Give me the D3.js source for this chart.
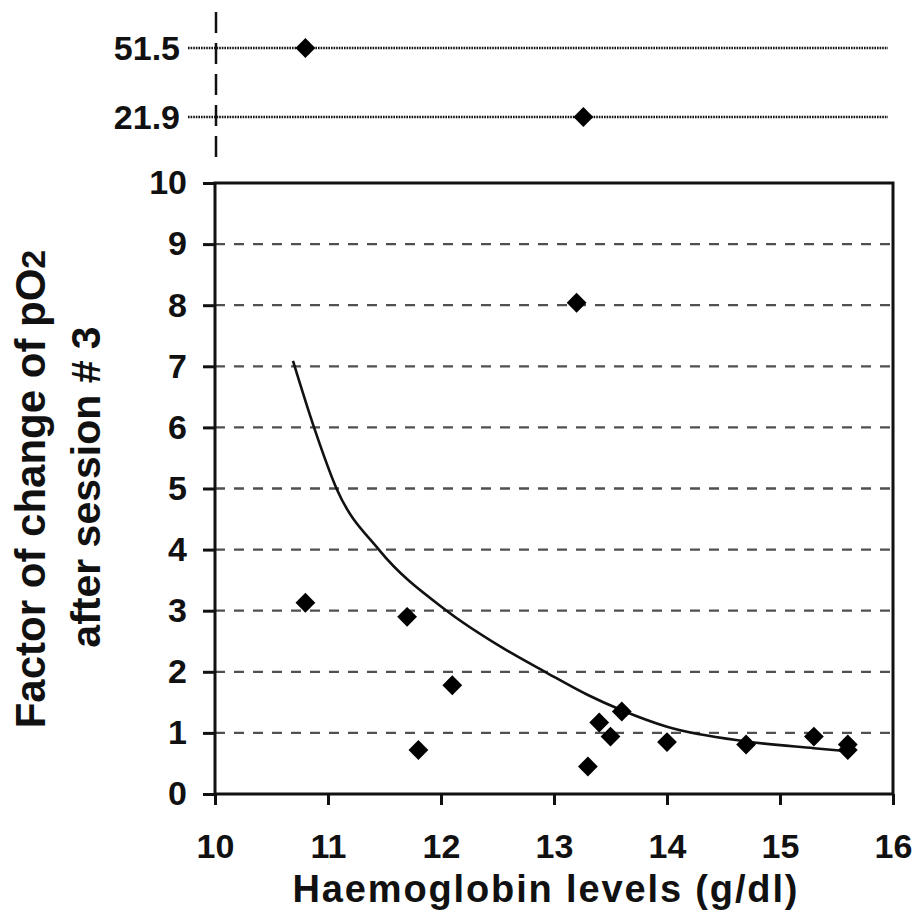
<!DOCTYPE html>
<html>
<head>
<meta charset="utf-8">
<script src="https://cdn.jsdelivr.net/npm/d3@7"></script>
<style>
  body { margin: 0; background: #fff; }
  svg { display: block; }
  text { font-family: "Liberation Sans", Arial, sans-serif; font-weight: bold; fill: #111; }
</style>
</head>
<body>
<div class="chart"></div>
<script>
// haemoglobin (g/dl) and factor of change of pO2
const hb = [10.8, 11.7, 11.8, 12.1, 13.2, 13.3, 13.4, 13.5, 13.6, 14.0, 14.7, 15.3, 15.6, 15.6]
const factor = [3.13, 2.9, 0.72, 1.78, 8.04, 0.45, 1.17, 0.94, 1.35, 0.85, 0.81, 0.94, 0.81, 0.72]

// the two out-of-range values shown above the axis break
const hbHigh = [10.8, 13.26]
const factorHigh = [51.5, 21.9]

// fitted trend line
const fitHb = [10.69, 10.88, 11.08, 11.45, 12.05, 12.52, 12.94, 13.3, 13.6, 14.0, 14.7, 15.3, 15.6]
const fitFactor = [7.09, 5.98, 4.98, 4.0, 3.0, 2.42, 1.98, 1.62, 1.37, 1.1, 0.86, 0.75, 0.7]

const xTicks = [10, 11, 12, 13, 14, 15, 16]
const yTicks = [0, 1, 2, 3, 4, 5, 6, 7, 8, 9, 10]

const width = 914
const height = 913
const plotLeft = 215, plotRight = 893, plotTop = 183, plotBottom = 794

const svg = d3.select('.chart')
    .append('svg')
    .attr('width', width)
    .attr('height', height)

const xScale = d3.scaleLinear().domain([10, 16]).range([plotLeft, plotRight])
const yScale = d3.scaleLinear().domain([0, 10]).range([plotBottom, plotTop])
// broken part of the axis, just two rows
const yHigh = d3.scalePoint().domain(factorHigh).range([48, 117])

// dashed grid lines
svg.append('g')
    .selectAll('line')
    .data(yTicks.filter(d => d > 0 && d < 10))
    .enter()
    .append('line')
    .attr('x1', plotLeft)
    .attr('x2', plotRight)
    .attr('y1', d => yScale(d))
    .attr('y2', d => yScale(d))
    .attr('stroke', '#505050')
    .attr('stroke-width', 2.3)
    .attr('stroke-dasharray', '10,9')

// upper panel: dotted rows and dashed continuation of the axis
svg.append('g')
    .selectAll('line')
    .data(factorHigh)
    .enter()
    .append('line')
    .attr('x1', 188)
    .attr('x2', 888)
    .attr('y1', d => yHigh(d))
    .attr('y2', d => yHigh(d))
    .attr('stroke', '#111')
    .attr('stroke-width', 2.5)
    .attr('stroke-dasharray', '1.6,1')

svg.append('line')
    .attr('x1', xScale(10) + 1)
    .attr('x2', xScale(10) + 1)
    .attr('y1', 12)
    .attr('y2', 158)
    .attr('stroke', '#111')
    .attr('stroke-width', 2.5)
    .attr('stroke-dasharray', '21,10')

svg.append('g')
    .selectAll('text')
    .data(factorHigh)
    .enter()
    .append('text')
    .attr('x', 180)
    .attr('y', d => yHigh(d))
    .attr('dy', '0.36em')
    .attr('text-anchor', 'end')
    .style('font-size', '34px')
    .text(d => d)

// frame
svg.append('rect')
    .attr('x', plotLeft)
    .attr('y', plotTop)
    .attr('width', plotRight - plotLeft)
    .attr('height', plotBottom - plotTop)
    .attr('fill', 'none')
    .attr('stroke', '#111')
    .attr('stroke-width', 3)

const xAxis = d3.axisBottom(xScale).tickValues(xTicks).tickSize(11).tickPadding(29).tickFormat(d3.format('d'))
const yAxis = d3.axisLeft(yScale).tickValues(yTicks).tickSize(12).tickPadding(16).tickFormat(d3.format('d'))

svg.append('g').attr('transform', `translate(0, ${plotBottom})`).call(xAxis)
svg.append('g').attr('transform', `translate(${plotLeft}, 0)`).call(yAxis)

svg.selectAll('.domain').remove()
svg.selectAll('.tick line').attr('stroke', '#111').attr('stroke-width', 3)
svg.selectAll('.tick text')
    .style('font-size', '34px')
    .style('font-family', '"Liberation Sans", Arial, sans-serif')
    .style('font-weight', 'bold')
    .attr('fill', '#111')

// trend line
const line = d3.line()
    .x(d => xScale(d[0]))
    .y(d => yScale(d[1]))
    .curve(d3.curveMonotoneX)

svg.append('path')
    .datum(fitHb.map((v, i) => [v, fitFactor[i]]))
    .attr('d', line)
    .attr('fill', 'none')
    .attr('stroke', '#111')
    .attr('stroke-width', 2.6)

// diamond markers
const diamond = d3.symbol().type(d3.symbolDiamond2).size(250)

svg.append('g')
    .selectAll('path')
    .data(hb.map((v, i) => [v, factor[i]]))
    .enter()
    .append('path')
    .attr('d', diamond)
    .attr('transform', d => `translate(${xScale(d[0])}, ${yScale(d[1])})`)
    .attr('fill', '#000')

svg.append('g')
    .selectAll('path')
    .data(hbHigh.map((v, i) => [v, factorHigh[i]]))
    .enter()
    .append('path')
    .attr('d', diamond)
    .attr('transform', d => `translate(${xScale(d[0])}, ${yHigh(d[1])})`)
    .attr('fill', '#000')

// axis titles
svg.append('text')
    .attr('x', 545)
    .attr('y', 902)
    .attr('text-anchor', 'middle')
    .attr('textLength', 505)
    .attr('lengthAdjust', 'spacing')
    .style('font-size', '38px')
    .text('Haemoglobin levels (g/dl)')

const yTitle = svg.append('text')
    .attr('transform', 'translate(45, 489) rotate(-90)')
    .attr('text-anchor', 'middle')
    .style('font-size', '42px')
yTitle.append('tspan').text('Factor of change of pO')
yTitle.append('tspan').style('font-size', '34px').text('2')

svg.append('text')
    .attr('transform', 'translate(100, 487) rotate(-90)')
    .attr('text-anchor', 'middle')
    .style('font-size', '41px')
    .text('after session # 3')
</script>
</body>
</html>
